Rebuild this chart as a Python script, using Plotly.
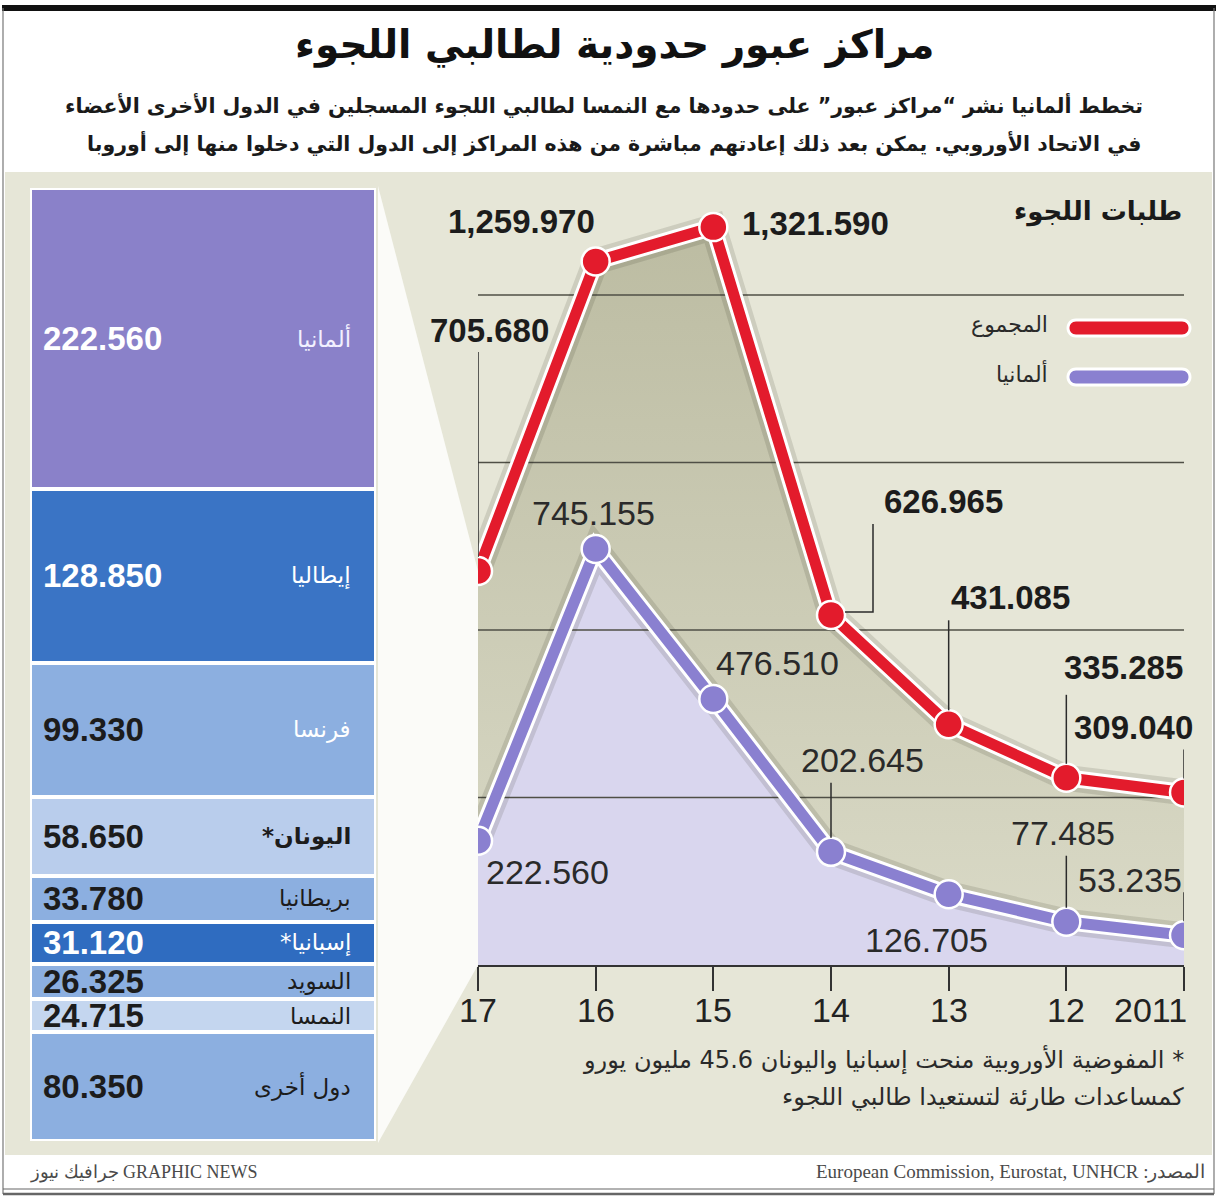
import numpy as np
import plotly.graph_objects as go

W, H = 1218, 1198

# ---------------- data ----------------
years = [2017, 2016, 2015, 2014, 2013, 2012, 2011]
year_ticks = ["17", "16", "15", "14", "13", "12", "2011"]
total_requests = [705680, 1259970, 1321590, 626965, 431085, 335285, 309040]
germany_requests = [222560, 745155, 476510, 202645, 126705, 77485, 53235]
total_labels = ["705.680", "1,259.970", "1,321.590", "626.965", "431.085", "335.285", "309.040"]
germany_labels = ["222.560", "745.155", "476.510", "202.645", "126.705", "77.485", "53.235"]
grid_values = [300000, 600000, 900000, 1200000]

countries = ["ألمانيا", "إيطاليا", "فرنسا", "*اليونان", "بريطانيا", "*إسبانيا", "السويد", "النمسا", "دول أخرى"]
country_values = [222560, 128850, 99330, 58650, 33780, 31120, 26325, 24715, 80350]
country_value_labels = ["222.560", "128.850", "99.330", "58.650", "33.780", "31.120", "26.325", "24.715", "80.350"]

title_text = "مراكز عبور حدودية لطالبي اللجوء"
subtitle_lines = [
    "تخطط ألمانيا نشر “مراكز عبور” على حدودها مع النمسا لطالبي اللجوء المسجلين في الدول الأخرى الأعضاء",
    "في الاتحاد الأوروبي. يمكن بعد ذلك إعادتهم مباشرة من هذه المراكز إلى الدول التي دخلوا منها إلى أوروبا",
]
chart_title = "طلبات اللجوء"
legend_names = ["المجموع", "ألمانيا"]
footnote_lines = [
    "المفوضية الأوروبية منحت إسبانيا واليونان 45.6 مليون يورو *",
    "كمساعدات طارئة لتستعيدا طالبي اللجوء",
]
source_text = "European Commission, Eurostat, UNHCR :المصدر"
credit_text = "جرافيك نيوز GRAPHIC NEWS"

# ---------------- styles ----------------
RED = "#e31b2c"
PURPLE = "#8a80d0"
AR = "DejaVu Sans"
NUM = "Liberation Sans"
DARK = "#1c1c1c"

bar_colors = ["#8a81c9", "#3a74c5", "#8cafe0", "#b9cdec", "#8cafe0", "#2f6cc0", "#8cafe0", "#c4d6ef", "#8cafe0"]
num_colors = ["white", "white", DARK, DARK, DARK, "white", DARK, DARK, DARK]
name_colors = ["#f2f0ff", "white", "white", DARK, DARK, "white", DARK, DARK, DARK]
name_bold = [False, False, False, True, False, False, False, False, False]

# label offsets in pixels (xshift, yshift) relative to the point
total_off = [(11, 240), (-74, 40), (102, 4), (112, 113), (62, 127), (57, 110), (-51, 65)]
germany_off = [(69, -31), (-2, 36), (64, 36), (31, 92), (-22, -46), (-3, 89), (-54, 55)]
# leader lines: pixel length above the point (None = none)
total_leader = [219, None, None, "bracket", 104, 83, 43]
germany_leader = [None, None, None, 69, None, 66, 43]
# year label anchors
tick_anchor = ["center"] * 6 + ["right"]
tick_xshift = [0] * 6 + [5]

# geometry (pixels)
PX_L, PX_R = 478, 1184
PY_BASE = 965
PX_PER_UNIT = 670 / 1200000
Y_MAX = 1400000
PY_TOP = PY_BASE - Y_MAX * PX_PER_UNIT

BAR_X0, BAR_X1, BAR_Y0, BAR_Y1 = 30, 376, 188, 1141


def px(x):
    return x / W


def py(y):
    return 1 - y / H


def data_to_px(year, val):
    x = PX_L + (max(years) - year) / (max(years) - min(years)) * (PX_R - PX_L)
    y = PY_BASE - val * PX_PER_UNIT
    return x, y


fig = go.Figure()

# ---------- left stacked bar ----------
for name, val, col in zip(countries, country_values, bar_colors):
    fig.add_trace(go.Bar(
        x=[0], y=[val], name=name, marker=dict(color=col, line=dict(color="white", width=4)),
        width=1, xaxis="x2", yaxis="y2", showlegend=False, hoverinfo="skip"))

cum = np.cumsum(country_values)
mids = cum - np.array(country_values) / 2

annotations = []
for i, (name, lab, m) in enumerate(zip(countries, country_value_labels, mids)):
    annotations.append(dict(
        x=-0.5, y=m, xref="x2", yref="y2", text="<b>%s</b>" % lab, showarrow=False,
        xanchor="left", yanchor="middle", xshift=11,
        font=dict(family=NUM, size=33, color=num_colors[i])))
    annotations.append(dict(
        x=0.5, y=m, xref="x2", yref="y2",
        text=("<b>%s</b>" % name) if name_bold[i] else name, showarrow=False,
        xanchor="right", yanchor="middle", xshift=-23,
        font=dict(family=AR, size=23, color=name_colors[i])))

# ---------- main chart ----------
fig.add_trace(go.Scatter(x=years, y=germany_requests, mode="lines", fill="tozeroy",
                         fillcolor="#d9d6ee", line=dict(width=0), showlegend=False, hoverinfo="skip"))
fig.add_trace(go.Scatter(x=years, y=total_requests, mode="lines", fill="tonexty",
                         fillgradient=dict(type="vertical",
                                           colorscale=[[0, "#d9d9c6"], [1, "#bcbca2"]]),
                         line=dict(width=0), showlegend=False, hoverinfo="skip"))
for g in grid_values:
    fig.add_trace(go.Scatter(x=[max(years), min(years)], y=[g, g], mode="lines",
                             line=dict(color="#4f4f46", width=1.6), showlegend=False, hoverinfo="skip"))

for vals, col in [(total_requests, RED), (germany_requests, PURPLE)]:
    fig.add_trace(go.Scatter(x=years, y=vals, mode="lines", line=dict(color="rgba(40,40,20,0.13)", width=26),
                             showlegend=False, hoverinfo="skip"))
    fig.add_trace(go.Scatter(x=years, y=vals, mode="lines", line=dict(color="white", width=17),
                             showlegend=False, hoverinfo="skip"))
    fig.add_trace(go.Scatter(x=years, y=vals, mode="lines+markers", line=dict(color=col, width=11),
                             marker=dict(size=28, color=col, line=dict(color="white", width=2.5)),
                             showlegend=False, hoverinfo="skip"))

for yr, v, lab, (dx, dy) in zip(years, total_requests, total_labels, total_off):
    annotations.append(dict(x=yr, y=v, xref="x", yref="y", text="<b>%s</b>" % lab, showarrow=False,
                            xshift=dx, yshift=dy, xanchor="center", yanchor="middle",
                            font=dict(family=NUM, size=33, color=DARK)))
for yr, v, lab, (dx, dy) in zip(years, germany_requests, germany_labels, germany_off):
    annotations.append(dict(x=yr, y=v, xref="x", yref="y", text=lab, showarrow=False,
                            xshift=dx, yshift=dy, xanchor="center", yanchor="middle",
                            font=dict(family=NUM, size=34, color="#2a2a2a")))

# year labels under the axis
for yr, t, anc, sh in zip(years, year_ticks, tick_anchor, tick_xshift):
    annotations.append(dict(x=yr, y=0, xref="x", yref="y", text=t, showarrow=False,
                            xanchor=anc, yanchor="middle", xshift=sh, yshift=-45,
                            font=dict(family=NUM, size=34, color="#222222")))

shapes = []
shapes.append(dict(type="rect", xref="paper", yref="paper", x0=px(5), x1=px(1212), y0=py(1155), y1=py(172),
                   fillcolor="#e6e6d7", line=dict(width=0), layer="below"))
cx, cy_top = data_to_px(max(years), total_requests[0])
_, cy_bot = data_to_px(max(years), 0)
path = "M %f,%f L %f,%f L %f,%f L %f,%f Z" % (
    px(BAR_X1 + 2), py(BAR_Y0 - 2), px(cx), py(cy_top), px(cx), py(cy_bot), px(BAR_X1 + 2), py(BAR_Y1 + 2))
shapes.append(dict(type="path", xref="paper", yref="paper", path=path,
                   fillcolor="#fbfbf8", line=dict(width=0), layer="below"))
shapes.append(dict(type="line", xref="paper", yref="paper", x0=px(2), x1=px(1216), y0=py(8), y1=py(8),
                   line=dict(color="#111111", width=6), layer="below"))
for xx in (3, 1214):
    shapes.append(dict(type="line", xref="paper", yref="paper", x0=px(xx), x1=px(xx), y0=py(8), y1=py(1194),
                       line=dict(color="#777777", width=1.2), layer="below"))
for yy, wdt in ((1189, 1.2), (1194, 2.5)):
    shapes.append(dict(type="line", xref="paper", yref="paper", x0=px(3), x1=px(1214), y0=py(yy), y1=py(yy),
                       line=dict(color="#666666", width=wdt), layer="below"))

LCOL = dict(color="#2b2b2b", width=1.5)
for yr, v, L in zip(years, total_requests, total_leader):
    if L is None:
        continue
    if L == "bracket":
        shapes.append(dict(type="path", xref="x", yref="y", xsizemode="pixel", ysizemode="pixel",
                           xanchor=yr, yanchor=v, path="M 14,3 L 42,3 L 42,91", line=LCOL, layer="above"))
    else:
        shapes.append(dict(type="line", xref="x", yref="y", ysizemode="pixel", yanchor=v,
                           x0=yr, x1=yr, y0=14, y1=L, line=LCOL, layer="above"))
for yr, v, L in zip(years, germany_requests, germany_leader):
    if L is None:
        continue
    shapes.append(dict(type="line", xref="x", yref="y", ysizemode="pixel", yanchor=v,
                       x0=yr, x1=yr, y0=14, y1=L, line=LCOL, layer="above"))


def pill(x0, x1, yc, r, color):
    k = 1.33 * r
    p = "M %f,%f L %f,%f C %f,%f %f,%f %f,%f L %f,%f C %f,%f %f,%f %f,%f Z" % (
        px(x0), py(yc - r), px(x1), py(yc - r),
        px(x1 + k), py(yc - r), px(x1 + k), py(yc + r), px(x1), py(yc + r),
        px(x0), py(yc + r),
        px(x0 - k), py(yc + r), px(x0 - k), py(yc - r), px(x0), py(yc - r))
    return dict(type="path", xref="paper", yref="paper", path=p, fillcolor=color,
                line=dict(width=0), layer="above")


for yc, col in [(328, RED), (377, PURPLE)]:
    shapes.append(pill(1076, 1182, yc, 9.5, "white"))
    shapes.append(pill(1076, 1182, yc, 6.5, col))


def ptext(x, y, text, size, color=DARK, family=AR, xanchor="right", yanchor="middle"):
    annotations.append(dict(x=px(x), y=py(y), xref="paper", yref="paper", text=text, showarrow=False,
                            xanchor=xanchor, yanchor=yanchor, font=dict(family=family, size=size, color=color)))


ptext(614, 45, "<b>%s</b>" % title_text, 39, color="#111111", xanchor="center")
ptext(1145, 105, "<b>%s</b>" % subtitle_lines[0], 20.5, color="#1a1a1a")
ptext(1143, 143, "<b>%s</b>" % subtitle_lines[1], 20.5, color="#1a1a1a")
ptext(1184, 212, "<b>%s</b>" % chart_title, 26, color="#1a1a1a")
ptext(1050, 324, legend_names[0], 22, color="#2a2a2a")
ptext(1050, 374, legend_names[1], 22, color="#2a2a2a")
ptext(1186, 1060, footnote_lines[0], 24, color="#2a2a2a")
ptext(1186, 1097, footnote_lines[1], 24, color="#2a2a2a")
ptext(1207, 1172, source_text, 19, color="#4a4a4a", family="Liberation Serif")
ptext(28, 1172, credit_text, 18, color="#4a4a4a", family="Liberation Serif", xanchor="left")

fig.update_layout(
    width=W, height=H, margin=dict(l=0, r=0, t=0, b=0, autoexpand=False),
    paper_bgcolor="white", plot_bgcolor="rgba(0,0,0,0)",
    barmode="stack", showlegend=False,
    xaxis=dict(domain=[px(PX_L), px(PX_R)], range=[max(years), min(years)],
               tickvals=years, showticklabels=False, ticks="outside", ticklen=24, tickwidth=1.8,
               tickcolor="#333333", showline=True, linecolor="#333333", linewidth=2,
               showgrid=False, zeroline=False, automargin=False),
    yaxis=dict(domain=[py(PY_BASE), py(PY_TOP)], range=[0, Y_MAX], visible=False,
               showgrid=False, zeroline=False, automargin=False),
    xaxis2=dict(domain=[px(BAR_X0), px(BAR_X1)], range=[-0.5, 0.5], visible=False, anchor="y2",
                automargin=False),
    yaxis2=dict(domain=[py(BAR_Y1), py(BAR_Y0)], range=[float(cum[-1]), 0], visible=False, anchor="x2",
                automargin=False),
    shapes=shapes, annotations=annotations,
)

fig.write_html("out.html")
